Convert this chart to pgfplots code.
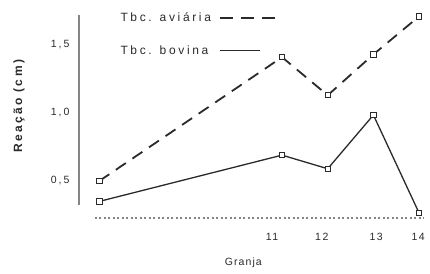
\documentclass[border=0pt]{standalone}
\usepackage{pgfplots}
\pgfplotsset{compat=1.18}
\usepackage{fontspec}
\setmainfont{Liberation Sans}
\definecolor{ink}{HTML}{2A2A2A}
\definecolor{axisgray}{HTML}{858585}
\begin{document}
\begin{tikzpicture}
\begin{axis}[
  scale only axis, width=346pt, height=203pt,
  xmin=6.555, xmax=14.13, ymin=0.228, ymax=1.72,
  axis line style={draw=none},
  clip=false,
  major tick length=0pt,
  ytick={0.5,1.0,1.5},
  yticklabels={{0\hspace{2pt},\hspace{2pt}5},{1\hspace{2pt},\hspace{2pt}0},{1\hspace{2pt},\hspace{2pt}5}},
  xtick={10.78,11.87,13.06,13.98},
  xticklabels={11,12,13,14},
  ticklabel style={font=\fontsize{10.5}{12}\selectfont\addfontfeature{LetterSpace=15}, text=ink},
  yticklabel style={xshift=-6pt},
  xticklabel style={yshift=-12pt},
  xlabel={Granja},
  ylabel={Reação (cm)},
  xlabel style={at={(rel axis cs:0.475,0)}, anchor=center, yshift=-45pt, font=\fontsize{10.5}{12}\selectfont\addfontfeature{LetterSpace=10}, text=ink},
  ylabel style={at={(rel axis cs:0,0.55)}, anchor=center, rotate=0, yshift=60pt, font=\fontsize{12}{14}\selectfont\bfseries\addfontfeature{LetterSpace=20}, text=ink},
  legend plot pos=right,
  legend cell align=left,
  legend style={at={(rel axis cs:0.105,1.03)}, anchor=north west, draw=none, fill=none,
    font=\fontsize{12}{14}\selectfont\addfontfeature{LetterSpace=22}, text=ink, row sep=18pt,
    /tikz/every odd column/.append style={column sep=6pt}},
]
\addplot[ink, line width=1.8pt, dash pattern=on 12pt off 8pt,
  mark=square*, mark size=2.6pt, mark options={solid, fill=white, draw=ink, line width=0.8pt},
  legend image code/.code={\draw[ink, line width=1.8pt, dash pattern=on 13pt off 8pt] (0pt,0pt) -- (55pt,0pt);}]
  coordinates {(7,0.50) (11,1.41) (12,1.13) (13,1.43) (14,1.71)};
\addlegendentry{Tbc. aviária}
\addplot[ink, line width=1.3pt,
  mark=square*, mark size=2.6pt, mark options={solid, fill=white, draw=ink, line width=0.8pt},
  legend image code/.code={\draw[ink, line width=1.6pt] (0pt,0pt) -- (40pt,0pt);}]
  coordinates {(7,0.35) (11,0.69) (12,0.59) (13,0.985) (14,0.265)};
\addlegendentry{Tbc. bovina}
\draw[axisgray, line width=1.6pt] (axis cs:6.555,0.324) -- (axis cs:6.555,1.72);
\draw[axisgray, line width=1.4pt, dash pattern=on 2pt off 2.5pt] (axis cs:6.9,0.228) -- (axis cs:14.1,0.228);
\end{axis}
\pgfresetboundingbox
\path (current axis.south west) ++(-79pt,-55pt) rectangle ++(430pt,273pt);
\end{tikzpicture}
\end{document}
